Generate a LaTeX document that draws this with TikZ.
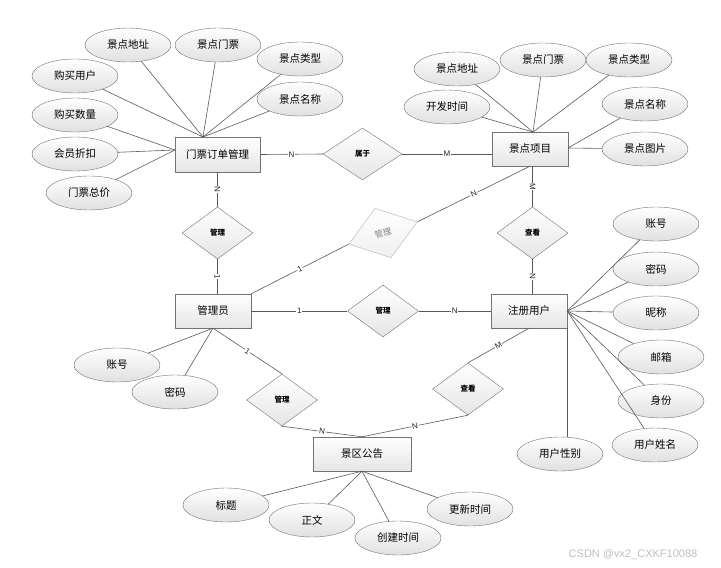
\documentclass[tikz,border=0pt]{standalone}
\usepackage{fontspec}
\setmainfont{Liberation Sans}
\newfontfamily\cjk{Noto Sans CJK SC}
\usetikzlibrary{shapes.geometric,shadows}
\tikzset{
  ent/.style={draw=black!55, top color=white, bottom color=black!10, minimum width=76pt, minimum height=34pt, inner sep=1pt,
    font=\cjk\fontsize{10.5}{12}\selectfont,
    drop shadow={shadow xshift=1.2pt, shadow yshift=-1.2pt, opacity=0.3, fill=black!60}},
  attr/.style={ellipse, draw=black!55, top color=white, bottom color=black!12, minimum width=86pt, minimum height=34pt, inner sep=0pt,
    font=\cjk\fontsize{10.5}{12}\selectfont},
  rel/.style={diamond, draw=black!55, top color=white, bottom color=black!10, minimum width=71pt, minimum height=52pt, inner sep=0pt,
    font=\cjk\fontsize{7.5}{9}\selectfont\bfseries},
  lnk/.style={draw=black!65, line width=0.6pt},
  lab/.style={fill=white, inner sep=0.6pt, font=\fontsize{8}{9}\selectfont, sloped, text=black!85},
}
\begin{document}
\begin{tikzpicture}[x=1pt,y=-1pt]
\useasboundingbox (0,0) rectangle (721,568);
% entities
\node[ent, minimum width=85pt, minimum height=35pt] (order) at (217.5,154.5) {门票订单管理};
\node[ent] (spot) at (530,149) {景点项目};
\node[ent] (admin) at (213,311) {管理员};
\node[ent] (user) at (529,311) {注册用户};
\node[ent, minimum width=98pt] (notice) at (362,454) {景区公告};
% relationships
\node[rel, minimum width=79pt] (r1) at (362.5,154) {属于};
\node[rel] (r2) at (217.5,233) {管理};
\node[rel, rotate=18, draw=black!30, top color=white, bottom color=black!6, text=black!50, font=\cjk\fontsize{8.5}{10}\selectfont, minimum width=72pt] (r3) at (383,233) {管理};
\node[rel] (r4) at (532.5,233) {查看};
\node[rel] (r5) at (383,311) {管理};
\node[rel] (r6) at (282,400) {管理};
\node[rel] (r7) at (468,389) {查看};
% attributes of order
\node[attr] (o1) at (128,45) {景点地址};
\node[attr] (o2) at (218,45) {景点门票};
\node[attr] (o3) at (300,59) {景点类型};
\node[attr] (o4) at (300,99) {景点名称};
\node[attr] (o5) at (75,76) {购买用户};
\node[attr] (o6) at (75,115) {购买数量};
\node[attr] (o7) at (75,154) {会员折扣};
\node[attr] (o8) at (89,193) {门票总价};
% attributes of spot
\node[attr] (s1) at (457,69) {景点地址};
\node[attr] (s2) at (543,60) {景点门票};
\node[attr] (s3) at (629,60) {景点类型};
\node[attr] (s4) at (447,107) {开发时间};
\node[attr] (s5) at (645,104) {景点名称};
\node[attr] (s6) at (645,149) {景点图片};
% attributes of user
\node[attr] (u1) at (656,224) {账号};
\node[attr] (u2) at (656,269) {密码};
\node[attr] (u3) at (656,313) {昵称};
\node[attr] (u4) at (661,357) {邮箱};
\node[attr] (u5) at (661,401) {身份};
\node[attr] (u6) at (655,445) {用户姓名};
\node[attr] (u7) at (560,454) {用户性别};
% attributes of admin
\node[attr] (a1) at (117,365) {账号};
\node[attr] (a2) at (175,392) {密码};
% attributes of notice
\node[attr] (n1) at (226,505) {标题};
\node[attr] (n2) at (312,520) {正文};
\node[attr] (n3) at (398,538) {创建时间};
\node[attr] (n4) at (470,509) {更新时间};
% coordinates
\coordinate (ot) at (203,137);
\coordinate (ol) at (175,150);
\coordinate (st) at (533,132);
\coordinate (se) at (568,148);
% attribute links
\foreach \a in {o1,o2,o3,o4,o5} \draw[lnk] (\a) -- (ot);
\foreach \a in {o6,o7,o8} \draw[lnk] (\a) -- (ol);
\foreach \a in {s1,s2,s3,s4} \draw[lnk] (\a) -- (st);
\foreach \a in {s5,s6} \draw[lnk] (\a) -- (se);
\foreach \a in {u1,u2,u3,u4,u5,u6} \draw[lnk] (\a) -- (user.east);
\draw[lnk] (user.south east) -- (user.south east |- u7.north);
\foreach \a in {a1,a2} \draw[lnk] (\a) -- (admin.south);
\foreach \a in {n1,n2,n3,n4} \draw[lnk] (\a) -- (notice.south);
% relationship links
\draw[lnk] (order.east) -- node[lab]{N} (r1.west);
\draw[lnk] (r1.east) -- node[lab]{M} (r1.east -| spot.west);
\draw[lnk] (order.south) -- node[lab]{N} (r2.north);
\draw[lnk] (r2.south) -- node[lab]{1} (r2.south |- admin.north);
\draw[lnk] (admin.north east) -- node[lab]{1} (r3.west);
\draw[lnk] (r3.east) -- node[lab]{N} (spot.south);
\draw[lnk] (r4.north |- spot.south) -- node[lab]{M} (r4.north);
\draw[lnk] (r4.south) -- node[lab]{N} (r4.south |- user.north);
\draw[lnk] (admin.east) -- node[lab]{1} (r5.west);
\draw[lnk] (r5.east) -- node[lab]{N} (user.west);
\draw[lnk] (admin.south) -- node[lab]{1} (r6.north);
\draw[lnk] (r6.south) -- node[lab]{N} (notice.north);
\draw[lnk] (r7.south) -- node[lab]{N} (notice.north);
\draw[lnk] (user.south) -- node[lab]{M} (r7.north);
% watermark
\node[text=black!25, font=\fontsize{11}{12}\selectfont] (wm) at (633,555) {CSDN @vx2\_CXKF10088};
\end{tikzpicture}
\end{document}
